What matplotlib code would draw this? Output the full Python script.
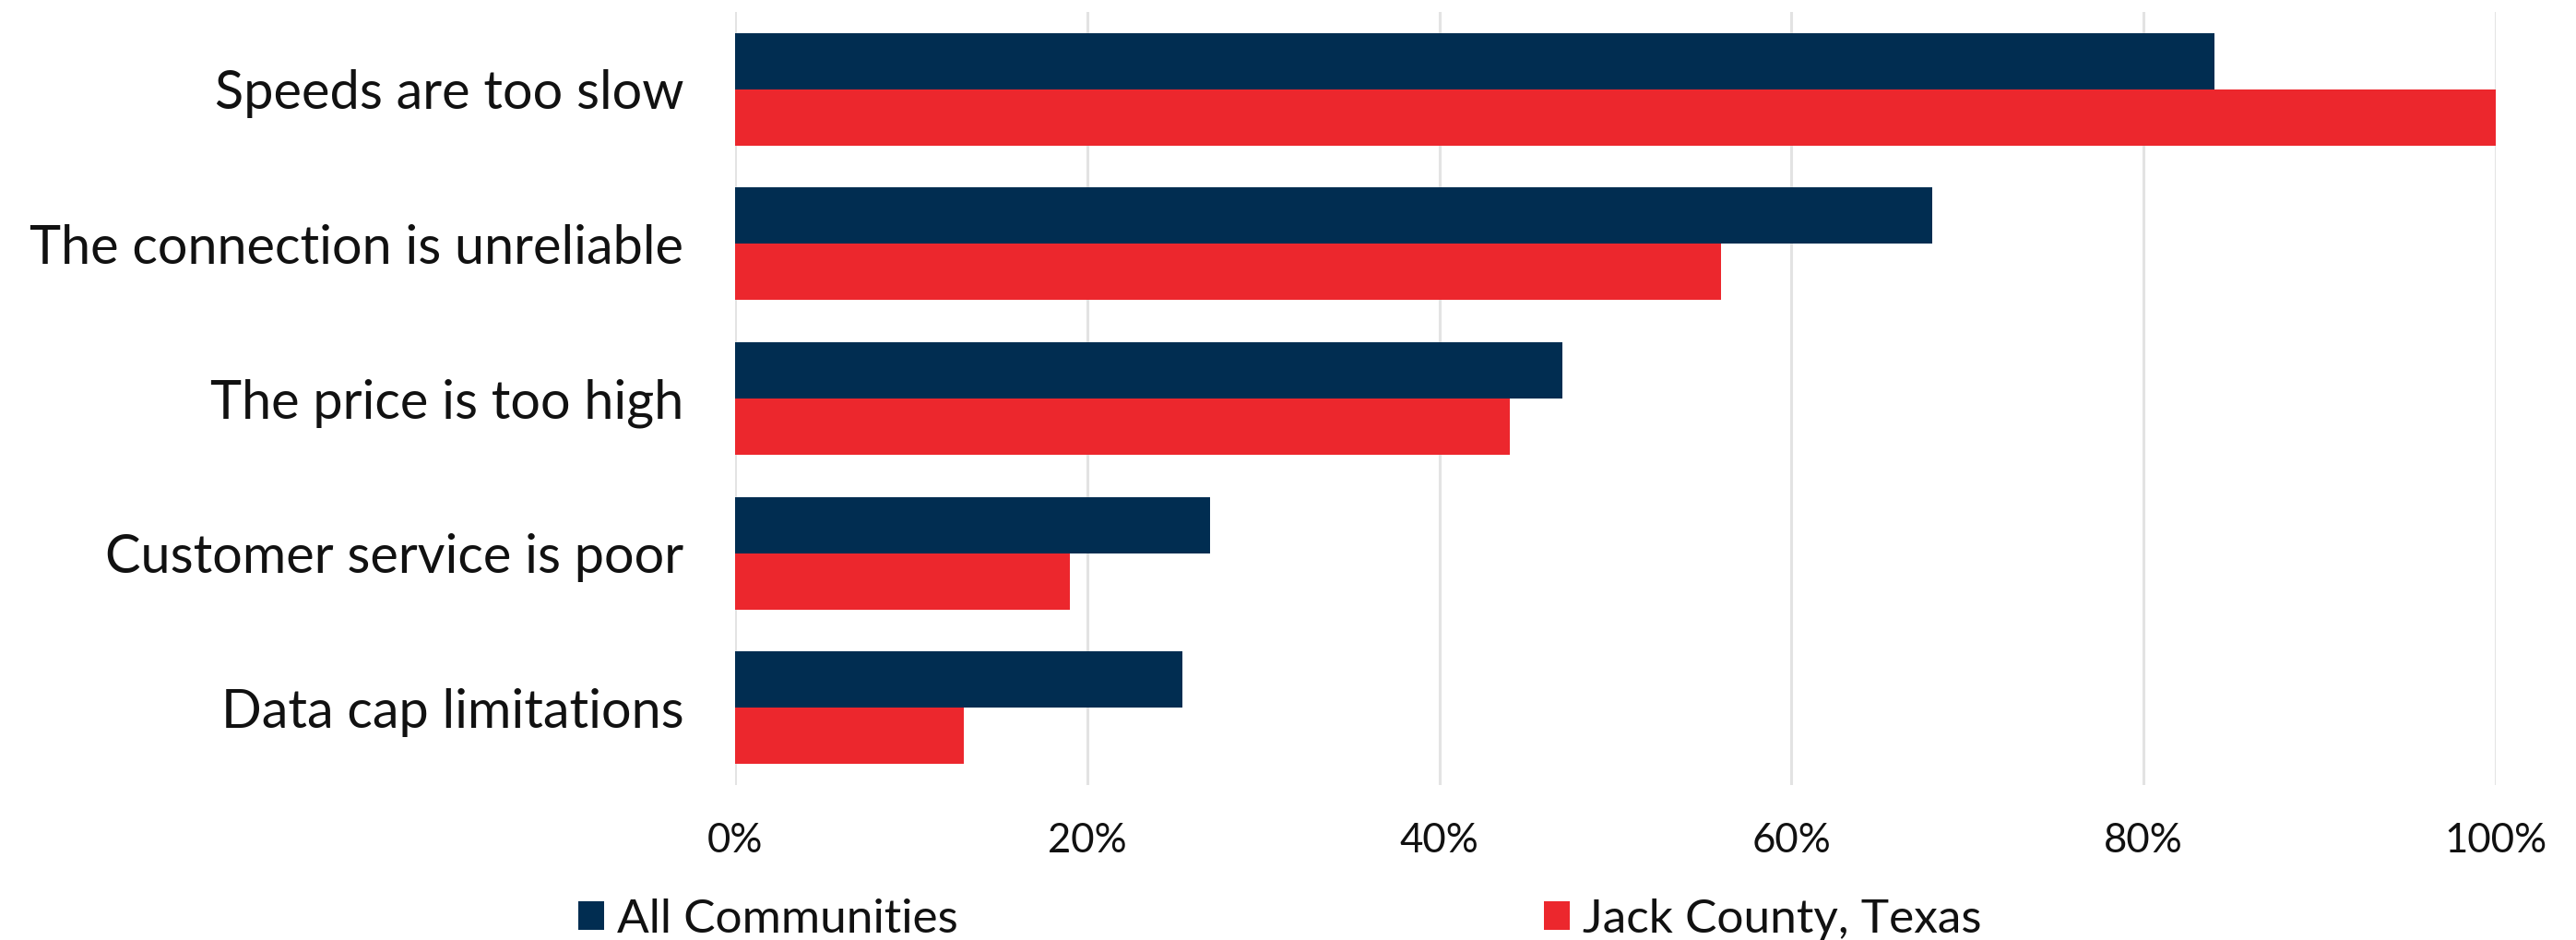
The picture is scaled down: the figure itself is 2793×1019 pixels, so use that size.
import matplotlib
matplotlib.use("Agg")
import matplotlib.pyplot as plt
from matplotlib.patches import Patch
from matplotlib.ticker import FuncFormatter

categories = ["Speeds are too slow", "The connection is unreliable", "The price is too high",
              "Customer service is poor", "Data cap limitations"]
all_communities = [84, 68, 47, 27, 25.4]
jack_county = [100, 56, 44, 19, 13]
series_names = ["All Communities", "Jack County, Texas"]
ticks = [0, 20, 40, 60, 80, 100]

NAVY = "#012D51"
RED = "#EC272D"
GRID = "#E3E3E3"

plt.rcParams['font.family'] = ['Lato', 'DejaVu Sans']

W, H = 2793, 1019
fig = plt.figure(figsize=(W / 100, H / 100), dpi=100)
ax = fig.add_axes([797 / W, 1 - 851 / H, (2706 - 797) / W, (851 - 13) / H])

bh = 0.364
ypos = list(range(len(categories)))
ax.barh([y - bh / 2 for y in ypos], all_communities, height=bh, color=NAVY, zorder=3)
ax.barh([y + bh / 2 for y in ypos], jack_county, height=bh, color=RED, zorder=3)

ax.set_ylim(len(categories) - 0.5, -0.5)
ax.set_xlim(0, 100)
ax.set_yticks(ypos)
ax.set_yticklabels(categories, fontsize=41.5, color="#111111")
ax.set_xticks(ticks)
ax.xaxis.set_major_formatter(FuncFormatter(lambda v, p: f"{int(v)}%"))
ax.tick_params(axis='x', labelsize=31.5, length=0, pad=29, colors="#111111")
ax.tick_params(axis='y', length=0, pad=40)
ax.grid(axis='x', color=GRID, linewidth=2.2, zorder=0)
ax.set_axisbelow(True)
for s in ax.spines.values():
    s.set_visible(False)

for name, col, x in [(series_names[0], NAVY, 627), (series_names[1], RED, 1674)]:
    fig.legend(handles=[Patch(facecolor=col, label=name)], loc='center left',
               bbox_to_anchor=(x / W, 1 - 997 / H), frameon=False, fontsize=37,
               handlelength=0.55, handleheight=0.55, handletextpad=0.26,
               borderpad=0, borderaxespad=0, labelcolor="#111111")

fig.savefig("out.png", dpi=100)
